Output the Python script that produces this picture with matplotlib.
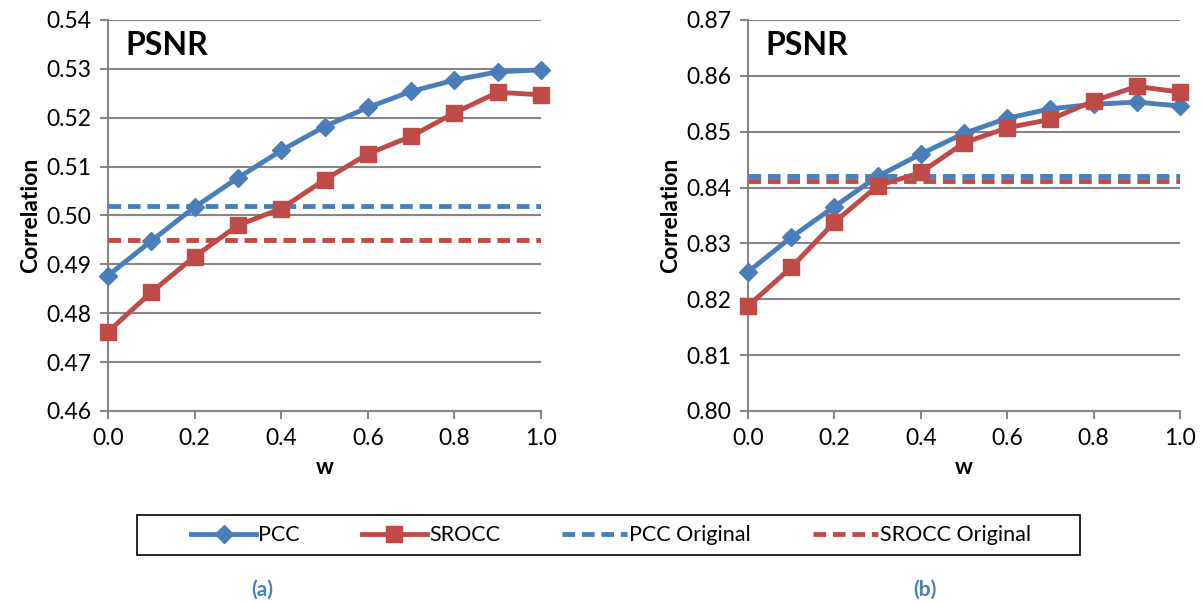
import matplotlib.pyplot as plt
from matplotlib.patches import Rectangle
import numpy as np

plt.rcParams['font.family'] = ['Lato', 'DejaVu Sans']

# Weight values on the x axis
w = [0.0, 0.1, 0.2, 0.3, 0.4, 0.5, 0.6, 0.7, 0.8, 0.9, 1.0]

# Panel (a)
pccA = [0.4877, 0.4948, 0.5017, 0.5077, 0.5133, 0.5182, 0.5221, 0.5254, 0.5277, 0.5294, 0.5298]
sroccA = [0.4762, 0.4843, 0.4916, 0.4980, 0.5014, 0.5073, 0.5126, 0.5162, 0.5210, 0.5252, 0.5247]
pccOrigA = 0.5020
sroccOrigA = 0.4950

# Panel (b)
pccB = [0.8249, 0.8311, 0.8366, 0.8420, 0.8460, 0.8497, 0.8524, 0.8541, 0.8549, 0.8553, 0.8546]
sroccB = [0.8188, 0.8257, 0.8338, 0.8403, 0.8427, 0.8480, 0.8507, 0.8522, 0.8555, 0.8581, 0.8571]
pccOrigB = 0.8420
sroccOrigB = 0.8411

yTicksA = [0.46, 0.47, 0.48, 0.49, 0.50, 0.51, 0.52, 0.53, 0.54]
yTicksB = [0.80, 0.81, 0.82, 0.83, 0.84, 0.85, 0.86, 0.87]
xTicks = [0.0, 0.2, 0.4, 0.6, 0.8, 1.0]

BLUE = "#4A7EBB"
RED = "#BE4B48"
GRID = "#868686"

fig = plt.figure(figsize=(12.03, 6.02), dpi=100)
axA = fig.add_axes([0.0898, 0.3173, 0.36, 0.6495])
axB = fig.add_axes([0.6218, 0.3173, 0.359, 0.6495])


def drawPanel(ax, pcc, srocc, pccOrig, sroccOrig, yTicks):
    ax.plot(w, pcc, color=BLUE, lw=3.5, marker="D", ms=9, clip_on=False, zorder=4, label="PCC")
    ax.plot(w, srocc, color=RED, lw=3.5, marker="s", ms=12, clip_on=False, zorder=5, label="SROCC")
    ax.plot([w[0], w[-1]], [pccOrig, pccOrig], color=BLUE, lw=3.5, dashes=(2.6, 1.4),
            zorder=3, label="PCC Original")
    ax.plot([w[0], w[-1]], [sroccOrig, sroccOrig], color=RED, lw=3.5, dashes=(2.6, 1.4),
            zorder=3, label="SROCC Original")

    ax.set_xlim(0, 1)
    ax.set_ylim(yTicks[0], yTicks[-1])
    ax.set_yticks(yTicks)
    ax.set_yticklabels(["%.2f" % t for t in yTicks])
    ax.set_xticks(xTicks)
    ax.set_xticklabels(["%.1f" % t for t in xTicks])
    ax.tick_params(axis="both", labelsize=16.5, color=GRID, width=1.5, length=6, pad=6)
    ax.yaxis.grid(True, color=GRID, lw=1.5)
    ax.set_axisbelow(True)
    for side in ["top", "right"]:
        ax.spines[side].set_visible(False)
    for side in ["left", "bottom"]:
        ax.spines[side].set_color(GRID)
        ax.spines[side].set_linewidth(1.5)

    ax.set_ylabel("Correlation", fontsize=16.5, fontweight="bold", labelpad=4)
    ax.text(0.5, -0.145, "w", transform=ax.transAxes, ha="center", va="center",
            fontsize=16, fontweight="bold")
    ax.text(0.04, 0.935, "PSNR", transform=ax.transAxes, ha="left", va="center",
            fontsize=23, fontweight="bold")


drawPanel(axA, pccA, sroccA, pccOrigA, sroccOrigA, yTicksA)
drawPanel(axB, pccB, sroccB, pccOrigB, sroccOrigB, yTicksB)

# panel captions
fig.text(0.218, 0.02, "(a)", ha="center", va="center", fontsize=15,
         fontweight="bold", color=BLUE)
fig.text(0.769, 0.02, "(b)", ha="center", va="center", fontsize=15,
         fontweight="bold", color=BLUE)

# shared legend, with its own frame box drawn around it
handles, labels = axA.get_legend_handles_labels()
fig.legend(handles, labels, ncol=4, loc="center",
           bbox_to_anchor=(0.508, 0.111), fontsize=15.5, frameon=False,
           handlelength=3.0, columnspacing=2.9, handletextpad=0.1)
fig.patches.append(Rectangle((137 / 1203, 47 / 602), 943 / 1203, 40 / 602,
                             transform=fig.transFigure, fill=False,
                             edgecolor="black", lw=1.2))

plt.savefig("out.png", dpi=100)
